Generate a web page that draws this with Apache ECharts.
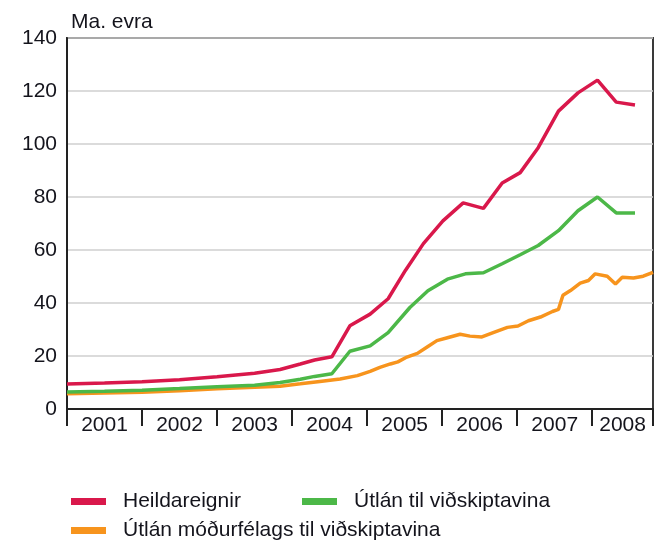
<!DOCTYPE html>
<html>
<head>
<meta charset="utf-8">
<script src="https://cdn.jsdelivr.net/npm/echarts@6/dist/echarts.min.js"></script>
<style>
  html, body { margin: 0; padding: 0; background: #fff; }
  #chart { width: 656px; height: 541px; }
</style>
</head>
<body>
<div id="chart"></div>
<script>
// ---- Data (x = fractional year, y = billions of euros) ----
const unitLabel = 'Ma. evra';
const seriesNames = ['Heildareignir', 'Útlán til viðskiptavina', 'Útlán móðurfélags til viðskiptavina'];
const yearTicks = [2001, 2002, 2003, 2004, 2005, 2006, 2007, 2008];
const yearLabels = ['2001', '2002', '2003', '2004', '2005', '2006', '2007', '2008'];
const xMin = 2001;
const xMax = 2008.81;

const heildX = [2001.0, 2001.5, 2002.0, 2002.5, 2003.0, 2003.5, 2003.84, 2004.11, 2004.3, 2004.53, 2004.77, 2005.04, 2005.28, 2005.51, 2005.75, 2006.01, 2006.28, 2006.55, 2006.8, 2007.04, 2007.28, 2007.55, 2007.81, 2008.07, 2008.32, 2008.57];
const heildY = [9.4, 9.8, 10.3, 11.0, 12.2, 13.5, 14.9, 17.0, 18.5, 19.7, 31.4, 35.8, 41.6, 52.3, 62.4, 71.0, 77.8, 75.7, 85.3, 89.2, 98.6, 112.4, 119.3, 124.1, 115.8, 114.7];

const utlanX = [2001.0, 2001.5, 2002.0, 2002.5, 2003.0, 2003.5, 2003.84, 2004.11, 2004.3, 2004.53, 2004.77, 2005.04, 2005.28, 2005.57, 2005.81, 2006.07, 2006.31, 2006.55, 2006.8, 2007.04, 2007.28, 2007.55, 2007.81, 2008.07, 2008.32, 2008.57];
const utlanY = [6.4, 6.7, 7.1, 7.7, 8.4, 9.0, 10.0, 11.2, 12.3, 13.3, 21.8, 23.8, 28.8, 38.3, 44.6, 49.0, 51.0, 51.4, 54.8, 58.2, 61.7, 67.3, 74.8, 80.0, 74.0, 74.0];

const modurX = [2001.0, 2001.5, 2002.0, 2002.5, 2003.0, 2003.5, 2003.84, 2004.11, 2004.37, 2004.64, 2004.87, 2005.04, 2005.17, 2005.31, 2005.41, 2005.53, 2005.67, 2005.8, 2005.93, 2006.07, 2006.24, 2006.37, 2006.53, 2006.68, 2006.87, 2007.01, 2007.15, 2007.31, 2007.47, 2007.55, 2007.61, 2007.71, 2007.84, 2007.95, 2008.04, 2008.2, 2008.31, 2008.4, 2008.55, 2008.68, 2008.81];
const modurY = [5.8, 6.0, 6.3, 6.9, 7.6, 8.2, 8.6, 9.5, 10.4, 11.3, 12.6, 14.2, 15.7, 17.0, 17.8, 19.6, 21.0, 23.4, 25.8, 26.9, 28.2, 27.5, 27.2, 28.8, 30.8, 31.3, 33.3, 34.7, 36.8, 37.6, 42.9, 44.7, 47.5, 48.5, 51.0, 50.1, 47.2, 49.7, 49.4, 50.1, 51.6];

const colors = ['#d9184b', '#4cb848', '#f7941d'];

function pairs(xs, ys) { return xs.map((x, i) => [x, ys[i]]); }

const FONT = 'Liberation Sans, Arial, sans-serif';
const TXT = '#14141c';

// label positions: centre of each year span (last one partial)
const labelValues = yearTicks.map((y, i) => {
  const end = i < yearTicks.length - 1 ? yearTicks[i + 1] : xMax;
  return (y + end) / 2;
});

const chart = echarts.init(document.getElementById('chart'), null, { renderer: 'canvas' });

function legend(name, left, top) {
  return {
    data: [name], left: left, top: top, orient: 'horizontal',
    itemWidth: 35, itemHeight: 7, icon: 'rect',
    selectedMode: false,
    textStyle: { fontFamily: FONT, fontSize: 21, color: TXT, padding: [0, 0, 0, 12] }
  };
}

chart.setOption({
  animation: false,
  backgroundColor: '#fff',
  title: {
    text: unitLabel, left: 66, top: 7,
    textStyle: { fontFamily: FONT, fontSize: 21, fontWeight: 'normal', color: TXT }
  },
  legend: [
    legend(seriesNames[0], 66, 486),
    legend(seriesNames[1], 297, 486),
    legend(seriesNames[2], 66, 515)
  ],
  grid: {
    left: 67, right: 3, top: 38, bottom: 132,
    show: true, borderColor: '#3a3a3a', borderWidth: 2, backgroundColor: 'transparent'
  },
  xAxis: {
    type: 'value', min: xMin, max: xMax,
    axisLine: { show: true, lineStyle: { color: '#222', width: 2 } },
    axisTick: {
      show: true, length: 17, inside: false,
      customValues: yearTicks.concat([xMax]),
      lineStyle: { color: '#222', width: 2 }
    },
    axisLabel: {
      customValues: labelValues,
      formatter: (v) => yearLabels[labelValues.findIndex(l => Math.abs(l - v) < 1e-6)] || '',
      fontFamily: FONT, fontSize: 21, color: TXT, margin: 6
    },
    splitLine: { show: false }
  },
  yAxis: {
    type: 'value', min: 0, max: 140, interval: 20,
    axisLine: { show: true, lineStyle: { color: '#222', width: 2 } },
    axisTick: { show: false },
    axisLabel: { fontFamily: FONT, fontSize: 21, color: TXT, margin: 10 },
    splitLine: { show: true, lineStyle: { color: '#cfcfcf', width: 1.5 } }
  },
  series: [
    { name: seriesNames[0], type: 'line', data: pairs(heildX, heildY), showSymbol: false, symbol: 'none',
      lineStyle: { color: colors[0], width: 3.5 }, itemStyle: { color: colors[0] }, z: 4 },
    { name: seriesNames[1], type: 'line', data: pairs(utlanX, utlanY), showSymbol: false, symbol: 'none',
      lineStyle: { color: colors[1], width: 3.5 }, itemStyle: { color: colors[1] }, z: 3 },
    { name: seriesNames[2], type: 'line', data: pairs(modurX, modurY), showSymbol: false, symbol: 'none',
      lineStyle: { color: colors[2], width: 3.5 }, itemStyle: { color: colors[2] }, z: 2 }
  ]
});
</script>
</body>
</html>
